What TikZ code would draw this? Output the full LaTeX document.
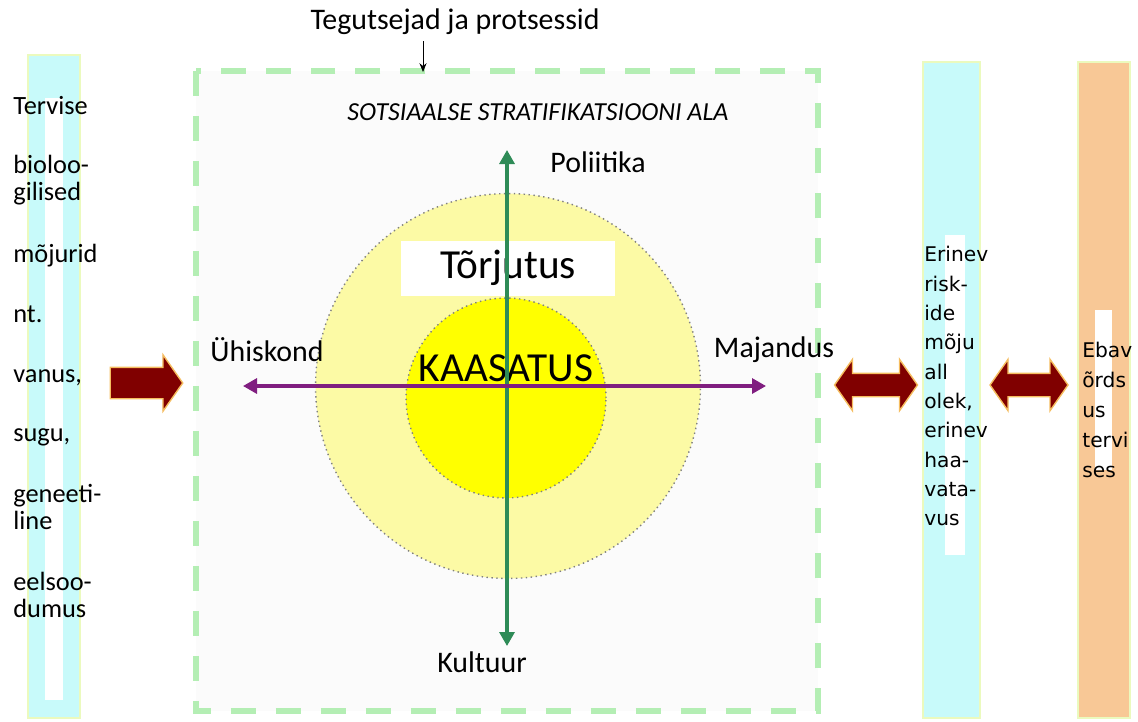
\documentclass[tikz,border=0pt]{standalone}
\usepackage{fontspec}
\setmainfont{Carlito}
\newfontfamily\vfont{DejaVu Sans}
\usepackage{tikz}
\usetikzlibrary{arrows.meta}
\usetikzlibrary{shapes.arrows}

\definecolor{barcyan}{RGB}{200,250,250}
\definecolor{barorange}{RGB}{248,200,150}
\definecolor{baredge}{RGB}{235,250,190}
\definecolor{boxgreen}{RGB}{180,238,180}
\definecolor{paleyellow}{RGB}{252,250,165}
\definecolor{sunyellow}{RGB}{255,255,0}
\definecolor{axisgreen}{RGB}{46,139,87}
\definecolor{axispurple}{RGB}{128,30,128}
\definecolor{blockred}{RGB}{128,0,0}

\begin{document}
\begin{tikzpicture}[x=0.02cm,y=-0.02cm,
  coltext/.style={anchor=west,inner sep=0pt,align=left,font=\fontsize{15}{15.5}\selectfont},
  vtext/.style={anchor=north west,inner sep=0pt,align=left},
  blockarrow/.style={fill=blockred,draw=baredge!50!orange,line width=0.8pt,inner xsep=0pt},
  ring/.style={circle,draw=gray,dotted,line width=0.8pt},
  axis/.style={line width=1.8pt,{Triangle[length=0.28cm,width=0.3cm]}-{Triangle[length=0.28cm,width=0.3cm]}},
  lbl/.style={font=\fontsize{17}{19}\selectfont}]
\useasboundingbox (0,0) rectangle (1138,721);

% columns
\draw[fill=barcyan,draw=baredge,line width=1pt] (28,55) rectangle (80,718);
\fill[white] (45,98) rectangle (63,700);
\draw[fill=barcyan,draw=baredge,line width=1pt] (923,62) rectangle (980,718);
\fill[white] (945,235) rectangle (965,555);
\draw[fill=barorange,draw=baredge,line width=1pt] (1078,62) rectangle (1130,718);
\fill[white] (1095,310) rectangle (1112,470);

% left column text
\node[coltext] (t1) at (13,106) {Tervise};
\node[coltext] (t2) at (13,180) {bioloo-\\gilised};
\node[coltext] (t3) at (13,256) {mõjurid};
\node[coltext] (t4) at (13,314) {nt.};
\node[coltext] (t5) at (13,378) {vanus,};
\node[coltext] (t6) at (13,437) {sugu,};
\node[coltext] (t7) at (13,507) {geneeti-\\line};
\node[coltext] (t8) at (13,595) {eelsoo-\\dumus};

% stratification area
\draw[boxgreen,line width=0.12cm,dash pattern=on 0.5cm off 0.4cm,fill=black!1.5] (196,71) rectangle (818,711);
\node[lbl] (tegu) at (455,22) {Tegutsejad ja protsessid};
\coordinate (tegutip) at (423,72);
\draw[-{Stealth[length=5pt,width=4pt]},line width=0.5pt] (tegu.south -| tegutip) -- (tegutip);
\node[font=\fontsize{14.8}{17}\selectfont\itshape] (ala) at (538,112) {SOTSIAALSE STRATIFIKATSIOONI ALA};

\node[ring,fill=paleyellow,minimum size=7.7cm] (outer) at (508,386) {};
\node[ring,fill=sunyellow,minimum size=4.0cm] (inner) at (506,398) {};

\node[fill=white,inner sep=2pt,minimum width=4.3cm,minimum height=1.1cm,font=\fontsize{23.5}{26}\selectfont] (torj) at (508,268) {Tõrjutus};
\node[font=\fontsize{23.5}{26}\selectfont] (kaas) at (506,368) {KAASATUS};

\coordinate (vtop) at (507,150);
\coordinate (vbot) at (507,646);
\coordinate (hleft) at (243,386);
\coordinate (hright) at (766,386);
\draw[axis,axisgreen] (vtop) -- (vbot);
\draw[axis,axispurple] (hleft) -- (hright);

\node[lbl] (pol) at (598,162) {Poliitika};
\node[lbl] (kul) at (482,662) {Kultuur};
\node[lbl] (yhis) at (267,350) {Ühiskond};
\node[lbl] (maj) at (774,350) {Majandus};

% block arrows
\node[blockarrow,single arrow,inner ysep=0.3cm,minimum height=1.45cm,single arrow head extend=0.25cm,single arrow tip angle=110] (inarr) at (141,383) {};
\node[blockarrow,double arrow,inner ysep=0.22cm,minimum height=1.66cm,double arrow head extend=0.28cm,double arrow tip angle=110] (darr1) at (876,385) {};
\node[blockarrow,double arrow,inner ysep=0.22cm,minimum height=1.56cm,double arrow head extend=0.28cm,double arrow tip angle=110] (darr2) at (1029,385) {};

% right columns text
\node[vtext,font=\vfont\fontsize{11.5}{16.7}\selectfont] (risk) at (924,246) {Erinev\\risk-\\ide\\mõju\\all\\olek,\\erinev\\haa-\\vata-\\vus};
\node[vtext,font=\vfont\fontsize{11.5}{17}\selectfont] (ebav) at (1082,342) {Ebav\\õrds\\us\\tervi\\ses};
\end{tikzpicture}
\end{document}
